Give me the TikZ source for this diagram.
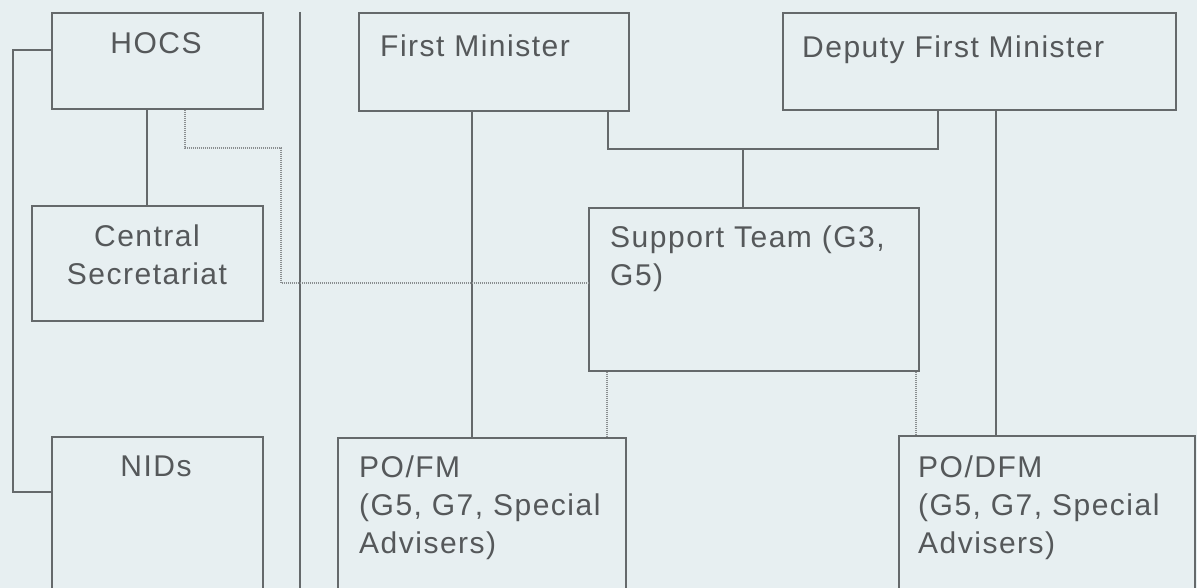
\documentclass[tikz,border=0pt]{standalone}
\usepackage{fontspec}
\setmainfont{Liberation Sans}[LetterSpace=5]
\definecolor{bg}{HTML}{E7EFF1}
\definecolor{ln}{HTML}{65696B}
\definecolor{tx}{HTML}{55585A}
\definecolor{dl}{HTML}{8A8E90}
\begin{document}
\begin{tikzpicture}[x=1pt,y=-1pt,
  box/.style={draw=ln, line width=1.6pt, inner sep=0pt, anchor=north west},
  lbl/.style={text=tx, font=\fontsize{30}{38}\selectfont, inner sep=0pt, align=left},
  con/.style={draw=ln, line width=1.3pt},
  dotc/.style={draw=dl, line width=1.3pt, dash pattern=on 0.9pt off 1.1pt}]
\fill[bg] (0,0) rectangle (1197,588);
\useasboundingbox (0,0) rectangle (1197,588);
\clip (0,0) rectangle (1197,588);
% boxes
\node[box, minimum width=211pt, minimum height=96pt] (hocs) at (51,12) {};
\node[box, minimum width=231pt, minimum height=115pt] (cs) at (31,205) {};
\node[box, minimum width=211pt, minimum height=200pt] (nids) at (51,436) {};
\node[box, minimum width=270pt, minimum height=98pt] (fm) at (358,12) {};
\node[box, minimum width=393pt, minimum height=97pt] (dfm) at (782,12) {};
\node[box, minimum width=330pt, minimum height=163pt] (st) at (588,207) {};
\node[box, minimum width=288pt, minimum height=200pt] (pofm) at (337,437) {};
\node[box, minimum width=296pt, minimum height=200pt] (podfm) at (898,435) {};
% texts (base = baseline of the last line)
\node[lbl, anchor=base] (thocs) at (156,54) {HOCS};
\node[lbl, anchor=base, align=center] (tcs) at (147,284) {Central\\Secretariat};
\node[lbl, anchor=base] (tnids) at (156,476) {NIDs};
\node[lbl, anchor=base west] (tfm) at (380,57) {First Minister};
\node[lbl, anchor=base west] (tdfm) at (802,58) {Deputy First Minister};
\node[lbl, anchor=base west] (tst) at (610,285) {Support Team (G3,\\G5)};
\node[lbl, anchor=base west] (tpofm) at (359,553) {PO/FM\\(G5, G7, Special\\Advisers)};
\node[lbl, anchor=base west] (tpodfm) at (918,553) {PO/DFM\\(G5, G7, Special\\Advisers)};
% separator
\coordinate (septop) at (300,12);
\coordinate (sepbot) at (300,600);
\draw[con] (septop) -- (sepbot);
% left side
\coordinate (vh) at (147,0);
\draw[con] (hocs.south -| vh) -- (cs.north -| vh);
\coordinate (hl) at ([yshift=-38pt]hocs.north west);
\coordinate (nl) at ([yshift=-56pt]nids.north west);
\coordinate (lb) at (13,0);
\draw[con] (hl) -- (hl -| lb) -- (nl -| lb) -- (nl);
% ministers bracket
\coordinate (b1) at (608,149);
\coordinate (b2) at (938,149);
\coordinate (bm) at (743,149);
\draw[con] (fm.south -| b1) -- (b1) -- (b2) -- (dfm.south -| b2);
\draw[con] (bm) -- (st.north -| bm);
\coordinate (vfm) at (472,0);
\draw[con] (fm.south -| vfm) -- (pofm.north -| vfm);
\coordinate (vdfm) at (996,0);
\draw[con] (dfm.south -| vdfm) -- (podfm.north -| vdfm);
% dotted
\coordinate (d1) at (607,0);
\draw[dotc] (st.south -| d1) -- (pofm.north -| d1);
\coordinate (d2) at (916,0);
\draw[dotc] (st.south -| d2) -- (podfm.north -| d2);
\coordinate (h1) at (185,148);
\coordinate (h2) at (281,148);
\coordinate (h3) at (281,283);
\draw[dotc] (hocs.south -| h1) -- (h1) -- (h2) -- (h3) -- (st.west |- h3);
\end{tikzpicture}
\end{document}
